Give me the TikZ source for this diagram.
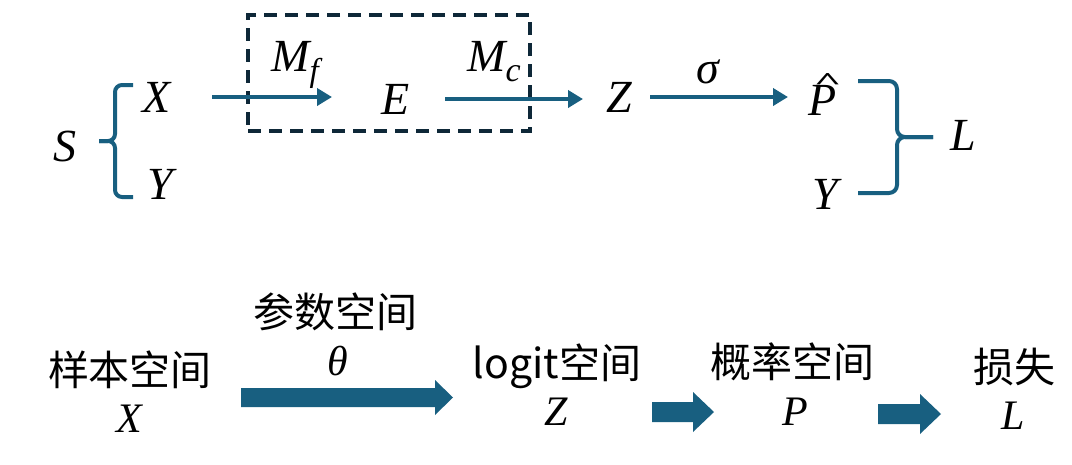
\documentclass[tikz,border=0pt]{standalone}
\usepackage{fontspec}
\usepackage{graphicx}
\setmainfont{Liberation Serif}
\newfontfamily\cjk{Noto Sans CJK SC}
\usetikzlibrary{arrows.meta}
\definecolor{tealb}{RGB}{24,95,128}
\definecolor{boxc}{RGB}{14,40,56}
\newcommand{\phat}{\ooalign{\hfil\hspace{5pt}\raisebox{26pt}{\resizebox{28pt}{16pt}{\normalfont\bfseries\char"005E}}\hfil\cr\itshape P\cr}}
\begin{document}
\begin{tikzpicture}[x=1pt,y=-1pt,
  lt/.style={inner sep=0pt, font=\fontsize{46}{50}\selectfont\itshape},
  lb/.style={inner sep=0pt, font=\fontsize{42}{46}\selectfont\itshape},
  zh/.style={inner sep=0pt, font=\fontsize{41}{46}\selectfont\cjk},
  conn/.style={draw=tealb, line width=3.8pt, -{Triangle[length=15pt,width=17pt]}},
  brace/.style={draw=tealb, line width=4pt, line join=round},
  blk/.style={fill=tealb},
  dbox/.style={draw=boxc, line width=4pt, dash pattern=on 13pt off 8pt, inner sep=0pt}]
\useasboundingbox (0,0) rectangle (1072,464);
% top row
\node[lt] (S) at (65,146) {S};
\node[lt] (X) at (157,97) {X};
\node[lt] (Y) at (160,184) {Y};
\node[lt] (E) at (396,99) {E};
\node[lt] (Z) at (619,97) {Z};
\node[lt, anchor=base] (P) at (825,115) {\phat};
\node[lt] (Y2) at (825,194) {Y};
\node[lt] (L) at (963,135) {L};
\node[lt] (Mf) at (295,65) {M\raisebox{-10pt}{\fontsize{33}{33}\selectfont f}};
\node[lt] (Mc) at (494,62) {M\raisebox{-10pt}{\fontsize{34}{34}\selectfont c}};
\node[lt] (sig) at (708,72) {σ};
\node[dbox, minimum width=282pt, minimum height=116pt] (box) at (389,73) {};
\draw[conn, shorten <=55pt, shorten >=64pt] (X.center) -- (X.center -| E.center);
\draw[conn, shorten <=49pt, shorten >=36pt] (E.center) -- (E.center -| Z.center);
\draw[conn, shorten <=31pt, shorten >=37pt] (Z.center) -- (Z.center -| P.center);
% braces
\draw[brace] (133,85) -- (122,85) to[out=180,in=90] (115,92) -- (115,134) to[out=-90,in=0] (108,141) -- (99,141);
\draw[brace] (99,141) -- (108,141) to[out=0,in=90] (115,148) -- (115,190) to[out=-90,in=180] (122,197) -- (133,197);
\draw[brace] (858,81) -- (889,81) to[out=0,in=90] (897,89) -- (897,129) to[out=-90,in=180] (905,137) -- (933,137);
\draw[brace] (933,137) -- (905,137) to[out=180,in=90] (897,145) -- (897,185) to[out=-90,in=0] (889,193) -- (858,193);
% bottom row
\node[zh] (samp) at (130,370) {样本空间};
\node[lb] (Xb) at (129,419) {X};
\node[zh] (param) at (335,312) {参数空间};
\node[lb] (th) at (338,361) {θ};
\node[zh] (logit) at (557,366) {logit空间};
\node[lb] (Zb) at (556,412) {Z};
\node[zh] (prob) at (792,362) {概率空间};
\node[lb] (Pb) at (795,412) {P};
\node[zh] (loss) at (1014,367) {损失};
\node[lb] (Lb) at (1013,416) {L};
\fill[blk] (241,388) -- (435,388) -- (435,380) -- (453,397.5) -- (435,415) -- (435,407) -- (241,407) -- cycle;
\fill[blk] (652,402) -- (693,402) -- (693,392) -- (714,412) -- (693,432) -- (693,422) -- (652,422) -- cycle;
\fill[blk] (878,404) -- (920,404) -- (920,394) -- (941,414) -- (920,434) -- (920,424) -- (878,424) -- cycle;
\end{tikzpicture}
\end{document}
